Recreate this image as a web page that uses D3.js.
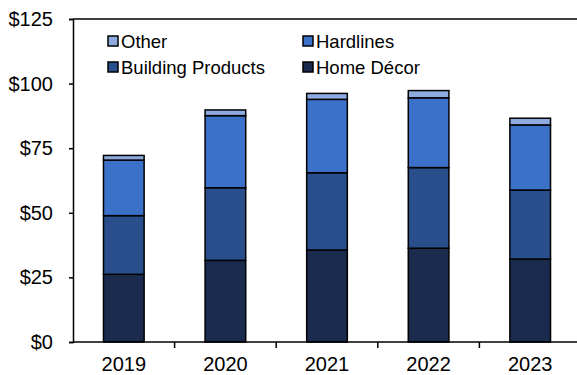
<!DOCTYPE html>
<html>
<head>
<meta charset="utf-8">
<script src="https://cdn.jsdelivr.net/npm/d3@7"></script>
<style>
  body { margin: 0; background: #fff; }
  svg { display: block; font-family: "Liberation Sans", Arial, sans-serif; }
</style>
</head>
<body>
<svg id="chart" width="577" height="375"></svg>
<script>
// Values in $
const years = ['2019', '2020', '2021', '2022', '2023'];
const seriesNames = ['Home Décor', 'Building Products', 'Hardlines', 'Other'];
const homeDecor = [26.2, 31.6, 35.6, 36.3, 32.1];
const buildingProducts = [22.7, 28.1, 29.9, 31.2, 26.7];
const hardlines = [21.5, 27.9, 28.4, 27.0, 25.2];
const other = [1.8, 2.2, 2.3, 2.8, 2.6];
const yTicks = [0, 25, 50, 75, 100, 125];

const colors = {
  'Home Décor': '#1a2b4e',
  'Building Products': '#284e8b',
  'Hardlines': '#3b71c8',
  'Other': '#8eaadf'
};

// rows for d3.stack
const rows = years.map((y, i) => ({
  year: y,
  'Home Décor': homeDecor[i],
  'Building Products': buildingProducts[i],
  'Hardlines': hardlines[i],
  'Other': other[i]
}));

const svg = d3.select('#chart');
const plotLeft = 73, plotRight = 581, plotTop = 19, plotBottom = 342;

const x = d3.scaleBand()
  .domain(years)
  .range([plotLeft, plotRight])
  .paddingInner(0.6)
  .paddingOuter(0.3);

const y = d3.scaleLinear()
  .domain([0, 125])
  .range([plotBottom, plotTop]);

const stacked = d3.stack().keys(seriesNames)(rows);

// bars
svg.append('g')
  .selectAll('g')
  .data(stacked)
  .join('g')
  .attr('fill', d => colors[d.key])
  .selectAll('rect')
  .data(d => d)
  .join('rect')
  .attr('x', d => x(d.data.year))
  .attr('y', d => y(d[1]))
  .attr('width', x.bandwidth())
  .attr('height', d => y(d[0]) - y(d[1]))
  .attr('stroke', '#000')
  .attr('stroke-width', 1.5);

// y axis
const yAxis = svg.append('g')
  .attr('transform', `translate(${plotLeft},0)`)
  .call(d3.axisLeft(y)
    .tickValues(yTicks)
    .tickFormat(d => '$' + d)
    .tickSize(4)
    .tickPadding(16));
yAxis.select('.domain').attr('stroke-width', 1.5);
yAxis.selectAll('.tick line').attr('stroke-width', 1.5);
yAxis.selectAll('text')
  .attr('font-size', 20)
  .attr('font-family', '"Liberation Sans", Arial, sans-serif')
  .attr('fill', '#000');

// top border
svg.append('line')
  .attr('x1', plotLeft).attr('x2', 577)
  .attr('y1', y(125)).attr('y2', y(125))
  .attr('stroke', '#000').attr('stroke-width', 1.5);

// x axis baseline
svg.append('line')
  .attr('x1', plotLeft).attr('x2', 577)
  .attr('y1', y(0)).attr('y2', y(0))
  .attr('stroke', '#000').attr('stroke-width', 1.5);

// x ticks between categories
const gap = (x.step() - x.bandwidth()) / 2;
svg.append('g')
  .selectAll('line')
  .data(years.slice(0, -1))
  .join('line')
  .attr('x1', d => x(d) + x.bandwidth() + gap)
  .attr('x2', d => x(d) + x.bandwidth() + gap)
  .attr('y1', y(0))
  .attr('y2', y(0) + 6)
  .attr('stroke', '#000')
  .attr('stroke-width', 1.5);

// x labels
svg.append('g')
  .selectAll('text')
  .data(years)
  .join('text')
  .attr('x', d => x(d) + x.bandwidth() / 2)
  .attr('y', 371)
  .attr('text-anchor', 'middle')
  .attr('font-size', 20)
  .text(d => d);

// legend
const legendItems = [
  { name: 'Other', col: 0, row: 0 },
  { name: 'Hardlines', col: 1, row: 0 },
  { name: 'Building Products', col: 0, row: 1 },
  { name: 'Home Décor', col: 1, row: 1 }
];
const legend = svg.append('g')
  .selectAll('g')
  .data(legendItems)
  .join('g')
  .attr('transform', d => `translate(${108 + d.col * 195},${41 + d.row * 26})`);

legend.append('rect')
  .attr('x', 0).attr('y', -5)
  .attr('width', 10).attr('height', 10)
  .attr('fill', d => colors[d.name])
  .attr('stroke', '#000')
  .attr('stroke-width', 1.5);

legend.append('text')
  .attr('x', 13)
  .attr('y', 6.5)
  .attr('font-size', 18.5)
  .text(d => d.name);
</script>
</body>
</html>
